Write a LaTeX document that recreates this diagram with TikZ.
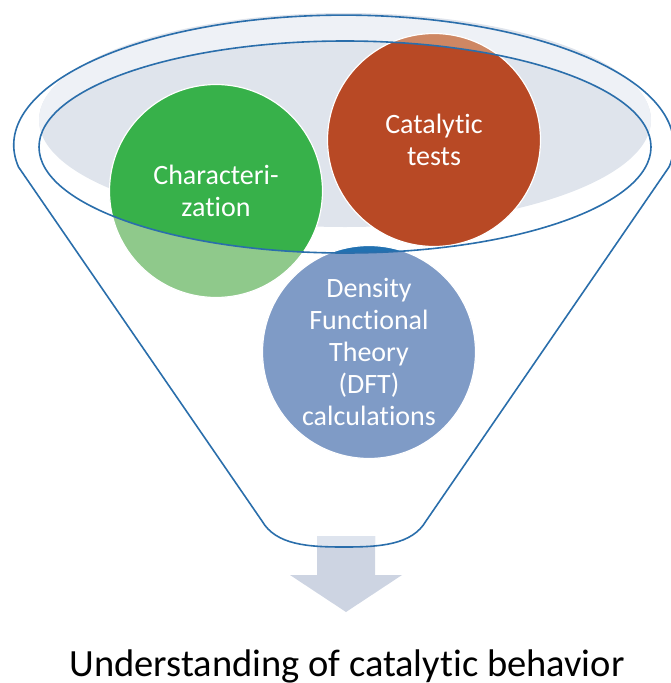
\documentclass[tikz,border=0pt]{standalone}
\usepackage{fontspec}
\setmainfont{Carlito}[Ligatures=NoCommon]
\definecolor{funnelblue}{HTML}{2A6EAB}
\definecolor{mouthgray}{HTML}{DFE4EC}
\definecolor{mouthpale}{HTML}{EEF1F6}
\definecolor{chargreen}{HTML}{37B14A}
\definecolor{chargreenpale}{HTML}{8FC98B}
\definecolor{catred}{HTML}{B84925}
\definecolor{catredpale}{HTML}{CE8763}
\definecolor{dftblue}{HTML}{2271B1}
\definecolor{dftbluepale}{HTML}{7F9BC6}
\definecolor{arrowgray}{HTML}{CDD4E2}
\definecolor{arrowpale}{HTML}{DEE4EE}

\begin{document}
\begin{tikzpicture}[x=1pt, y=-1pt,
  topic/.style={align=center, text=white, font=\fontsize{28}{32}\selectfont},
  disc/.style={draw=white, line width=1.2pt},
  funnelline/.style={draw=funnelblue, line width=1.6pt}]
\newcommand\FunnelShape{(18.5,167) arc[start angle=189.7, end angle=-9.7, x radius=330pt, y radius=130pt] -- (426,521) .. controls (412,545) and (380,547) .. (344,547) .. controls (308,547) and (276,545) .. (262,521) -- cycle}
\newcommand\MouthShape{(345,147) ellipse[x radius=306pt, y radius=106pt]}
\newcommand\BackShape{(345,120) ellipse[x radius=306pt, y radius=107pt]}
\newcommand\ArrowShape{(317,536) -- (375,536) -- (375,575) -- (402,575) -- (346,612) -- (290,575) -- (317,575) -- cycle}
\newcommand\DiscShape[1]{(#1) circle[radius=106.5pt]}
\useasboundingbox (0,0) rectangle (671,683);
\coordinate (charact) at (216,191);
\coordinate (catal) at (434,140);
\coordinate (dft) at (369,352);
% full colours
\fill[mouthgray] \BackShape;
\fill[arrowgray] \ArrowShape;
\filldraw[disc, fill=chargreen] \DiscShape{charact};
\filldraw[disc, fill=catred] \DiscShape{catal};
\filldraw[disc, fill=dftblue] \DiscShape{dft};
% funnel body, outside the mouth
\begin{scope}[even odd rule]
\clip \FunnelShape \MouthShape;
\fill[mouthpale] \BackShape;
\fill[arrowpale] \ArrowShape;
\filldraw[disc, fill=chargreenpale] \DiscShape{charact};
\filldraw[disc, fill=catredpale] \DiscShape{catal};
\filldraw[disc, fill=dftbluepale] \DiscShape{dft};
\end{scope}
\draw[funnelline] \FunnelShape;
\draw[funnelline] \MouthShape;
% labels
\node[topic] (charlabel) at (charact) {Characteri-\\zation};
\node[topic] (catlabel) at (catal) {Catalytic\\tests};
\node[topic] (dftlabel) at (dft) {Density\\Functional\\Theory\\(DFT)\\calculations};
\node[anchor=base, font=\fontsize{38.5}{46}\selectfont] (behavior) at (347,676) {Understanding of catalytic behavior};
\end{tikzpicture}
\end{document}
